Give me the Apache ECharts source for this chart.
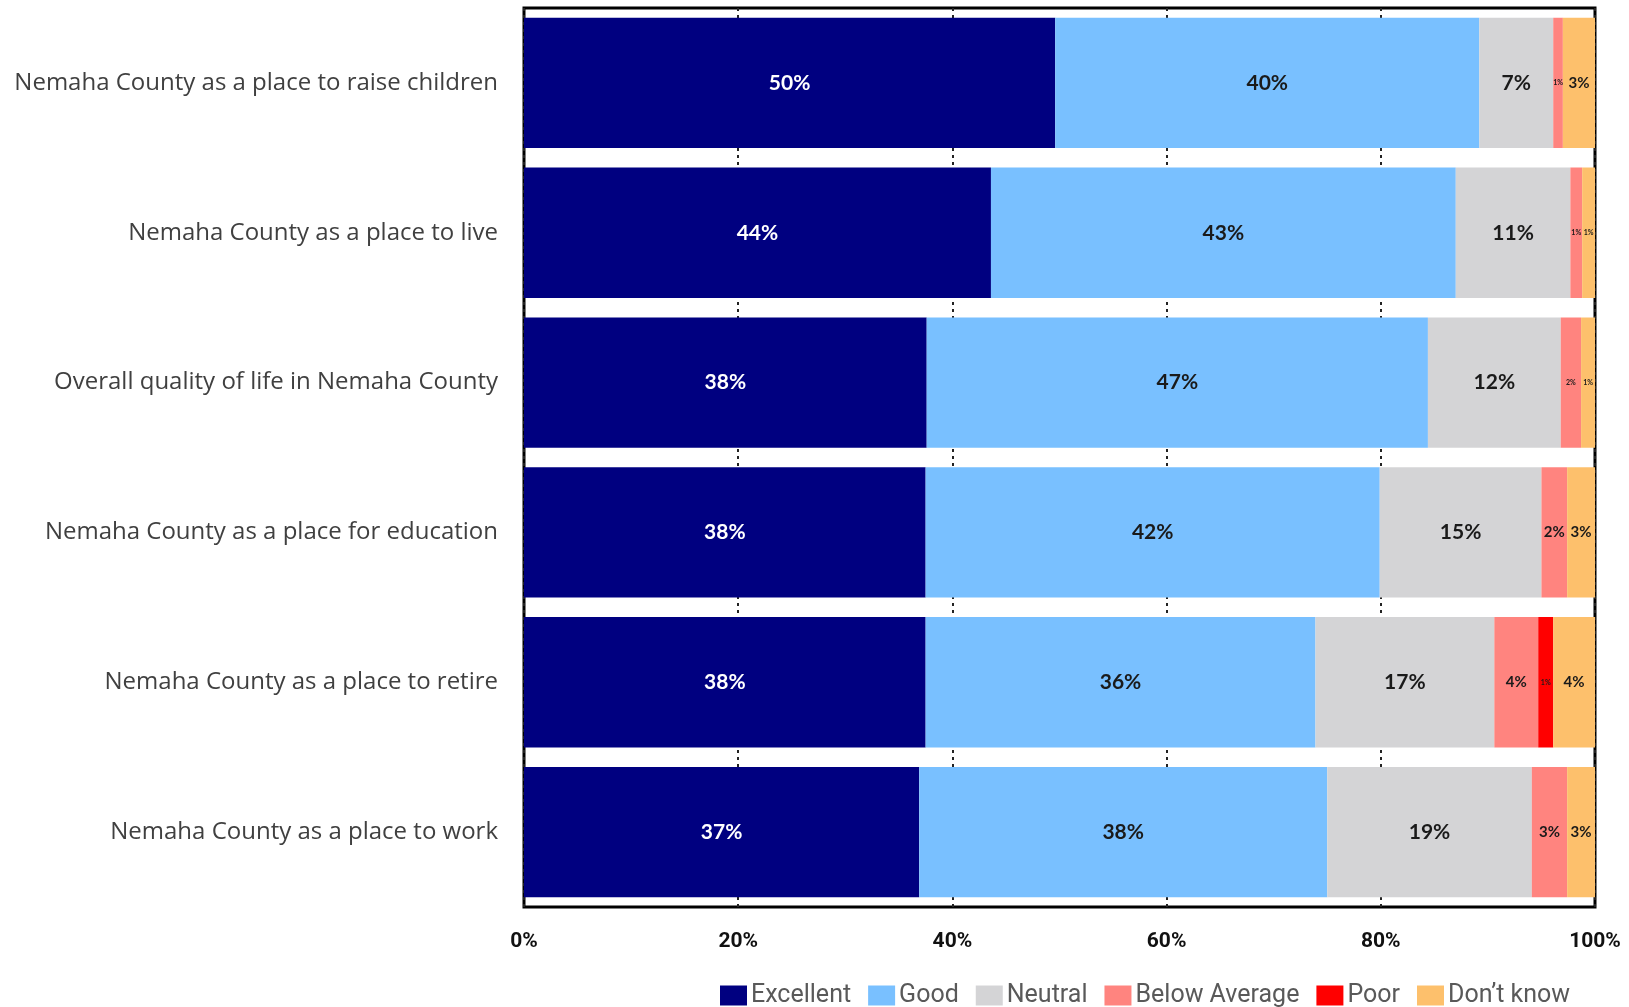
<!DOCTYPE html>
<html>
<head>
<meta charset="utf-8">
<script src="https://cdn.jsdelivr.net/npm/echarts@6/dist/echarts.min.js"></script>
<style>html,body{margin:0;padding:0;background:#fff}#c{width:1629px;height:1007px}</style>
</head>
<body>
<div id="c"></div>
<script>
const categories = [
  "Nemaha County as a place to raise children",
  "Nemaha County as a place to live",
  "Overall quality of life in Nemaha County",
  "Nemaha County as a place for education",
  "Nemaha County as a place to retire",
  "Nemaha County as a place to work"
];
const excellent    = [49.6, 43.6, 37.6, 37.5, 37.5, 36.9];
const good         = [39.6, 43.4, 46.8, 42.4, 36.4, 38.1];
const neutral      = [6.9, 10.7, 12.4, 15.1, 16.7, 19.1];
const belowAverage = [0.9, 1.1, 1.9, 2.4, 4.1, 3.3];
const poor         = [0, 0, 0, 0, 1.4, 0];
const dontKnow     = [3.0, 1.2, 1.3, 2.6, 3.9, 2.6];
const tickLabels = ["0%", "20%", "40%", "60%", "80%", "100%"];

const seriesDefs = [
  { name: "Excellent", data: excellent, color: "#000080", text: "#ffffff" },
  { name: "Good", data: good, color: "#79C0FF", text: "#1a1a1a" },
  { name: "Neutral", data: neutral, color: "#D4D4D6", text: "#1a1a1a" },
  { name: "Below Average", data: belowAverage, color: "#FF847F", text: "#1a1a1a" },
  { name: "Poor", data: poor, color: "#FF0000", text: "#1a1a1a" },
  { name: "Don\u02bct know", data: dontKnow, color: "#FDC06C", text: "#1a1a1a" }
];

const chart = echarts.init(document.getElementById('c'), null, { renderer: 'canvas' });
chart.setOption({
  animation: false,
  backgroundColor: '#ffffff',
  grid: { left: 524, right: 34, top: 8, bottom: 100, show: true, borderColor: '#000', borderWidth: 3, containLabel: false },
  legend: {
    top: 978, left: 715,
    itemWidth: 27, itemHeight: 20, itemGap: 17,
    icon: 'rect',
    textStyle: { color: '#595959', fontSize: 25, fontFamily: 'Liberation Sans Narrow, Roboto, sans-serif', padding: [0, 0, 0, -1] },
    data: seriesDefs.map(s => s.name)
  },
  xAxis: {
    type: 'value', min: 0, max: 100, interval: 20,
    axisLine: { show: false }, axisTick: { show: false },
    axisLabel: { margin: 24, fontSize: 21, fontWeight: 'bold', color: '#111', fontFamily: 'Liberation Sans Narrow, Roboto, sans-serif',
      formatter: v => tickLabels[Math.round(v / 20)] },
    splitLine: { show: true, lineStyle: { color: '#222', width: 2, type: [3, 4] } }
  },
  yAxis: {
    type: 'category', inverse: true, data: categories,
    axisLine: { show: false }, axisTick: { show: false },
    axisLabel: { margin: 26, fontSize: 24, color: '#404040', fontFamily: 'Open Sans, Lato, sans-serif' }
  },
  series: seriesDefs.map(s => ({
    name: s.name, type: 'bar', stack: 'total', data: s.data,
    barCategoryGap: '13%',
    itemStyle: { color: s.color },
    label: {
      show: true, position: 'inside', color: s.text, fontWeight: 'bold', fontFamily: 'Lato, Open Sans, sans-serif',
      formatter: p => p.value > 0 ? (p.value < 2 ? '{t|' : (p.value < 5 ? '{s|' : '{n|')) + Math.round(p.value) + '%}' : '',
      rich: {
        t: { fontSize: 7, fontWeight: 'bold', color: s.text, fontFamily: 'Lato, sans-serif' },
        s: { fontSize: 15, fontWeight: 'bold', color: s.text, fontFamily: 'Lato, sans-serif' },
        n: { fontSize: 21, fontWeight: 'bold', color: s.text, fontFamily: 'Lato, sans-serif' }
      }
    }
  }))
});
</script>
</body>
</html>
